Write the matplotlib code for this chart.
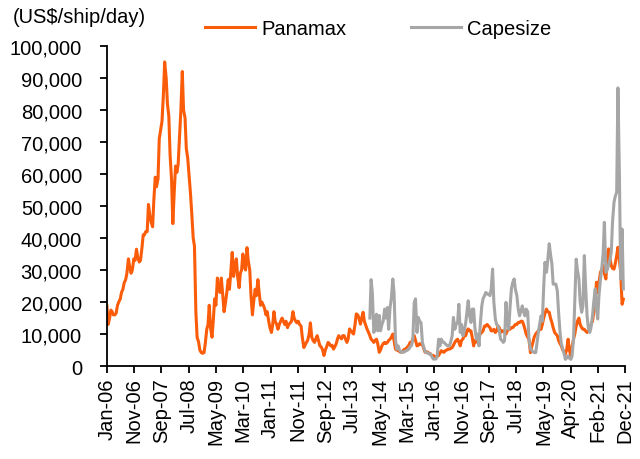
import matplotlib
matplotlib.use('Agg')
import matplotlib.pyplot as plt
import matplotlib.dates as mdates
from matplotlib.ticker import FuncFormatter
import numpy as np
import pandas as pd

# Panamax and Capesize rates, US$'000/ship/day, two readings per month
p2006 = [18.8, 13, 15, 17.5, 17, 16, 16, 16.5, 19, 20, 21, 23, 24, 26, 27, 29, 33.5, 31, 29, 30, 33.5, 33, 36.5, 34]
p2007 = [32.5, 33, 37, 41, 41, 42, 42, 50.5, 47, 45, 43.5, 52, 59, 56, 58.5, 71, 74, 76.5, 85, 95, 90, 82, 78, 66]
p2008 = [58, 44.5, 55, 62.5, 60.5, 63, 72, 80, 92, 80, 77.5, 68, 65, 60, 54, 48, 40, 37.5, 17, 9, 7.5, 5, 4.2, 4]
p2009 = [4.2, 7, 11.5, 13, 19, 12, 9, 14, 21, 19, 27.5, 24, 23, 27.5, 22, 17, 20, 23, 27, 24, 30, 35.5, 28, 31]
p2010 = [33.5, 28, 24.5, 29, 30, 35, 31, 30, 37, 33, 30, 22, 16, 20, 24, 22, 27, 23, 19, 20, 19, 18, 16, 17]
p2011 = [14, 12, 10.5, 13, 17, 14, 13, 11.5, 13, 14, 15, 14, 13, 14, 12, 13, 13.5, 14, 17, 15, 14, 13.5, 14, 13]
p2012 = [12.5, 9, 5.8, 6.5, 7.4, 8, 10, 13.5, 9, 8, 7.4, 8.5, 9.5, 8, 6.3, 6, 5, 3.3, 5, 6, 7.4, 7, 6.3, 6.5]
p2013 = [5.3, 6, 7, 8.5, 9.5, 9, 8.5, 9.5, 9.5, 8.5, 7.4, 8.5, 11.6, 11, 10.5, 10, 13, 16.3, 16, 15, 13.1, 15, 16.8, 14]
p2014 = [12.6, 11.5, 10.5, 9.5, 8.4, 8, 7.4, 8, 8.4, 7, 4.3, 5, 6.3, 7, 7.4, 7, 7.4, 8, 8.4, 9, 10, 8, 5.3, 5]
p2015 = [5, 4.5, 4.3, 4.5, 5, 5.3, 5.3, 6, 6.5, 7.4, 7.4, 8.5, 9.5, 8, 6.3, 6.5, 7, 6.8, 6.8, 5.5, 4.3, 4.5, 4.3, 4]
p2016 = [3.8, 3.3, 3.3, 3, 2.8, 3, 3.3, 4, 4.8, 4.5, 4.3, 4.8, 5, 5.3, 5.3, 5.5, 5.8, 6.5, 7.4, 8, 8.4, 7.5, 6.3, 8]
p2017 = [8.5, 9.5, 9.5, 11, 11.6, 11, 11, 9, 6.3, 8, 7.5, 9, 9.5, 10, 10.5, 11, 12.5, 12.5, 13, 12.5, 12, 11, 11, 11.5]
p2018 = [10.5, 11, 12.5, 12, 10.5, 11, 11, 10.5, 10, 11, 11.5, 11.5, 12, 12, 12.5, 13, 13, 13.6, 13.6, 14, 14, 13, 11.5, 10]
p2019 = [9, 8.4, 4.2, 6, 7.4, 9, 10, 10.5, 11, 11.5, 11.5, 13, 15, 16.5, 17.8, 17, 16.8, 15, 13.6, 12, 10.5, 10, 9.5, 8]
p2020 = [7, 6.3, 5, 4.5, 3.7, 5, 8.4, 5, 3.2, 6, 8.4, 10, 12.5, 14, 15, 13, 12, 11.5, 11.5, 11, 10.5, 11, 11.5, 13]
p2021 = [14, 16.8, 20, 26.2, 23, 26, 29.3, 30, 31.4, 29, 27.2, 33, 36.6, 34, 31.4, 30.5, 30.3, 32, 34.5, 37.1, 33, 29.3, 19.3, 20.9]

c2014 = [15, 27, 23, 10.5, 12, 16.2, 11, 15.8, 11, 13, 14, 17.8, 15, 18.3, 11.5, 18.3, 21, 27.2, 23, 8.4, 5.3]
c2015 = [6.3, 5, 4.3, 4.5, 4.3, 4.5, 4.8, 5, 5.3, 6, 6.5, 8.4, 19.9, 21, 10.5, 15.2, 14, 13.6, 7.4, 6, 4.5, 4.3, 4, 3.8]
c2016 = [3.8, 3, 2.2, 2.2, 2.2, 3, 8.4, 6.3, 8.4, 7.5, 7.4, 7, 6.5, 6.3, 6.3, 7.5, 9.5, 15.2, 11.5, 13, 13.6, 19.3, 10.5, 13]
c2017 = [9.5, 11, 13.6, 17, 20.4, 16, 13.6, 17.8, 17.8, 12, 8.4, 10, 6.3, 13, 18.8, 21, 22, 23, 22.5, 22.5, 22, 24, 30.3, 20]
c2018 = [14.7, 13, 12.5, 11, 8.4, 8, 7.4, 8, 19.9, 14, 11.5, 18, 24.1, 26, 27.2, 24, 22, 18, 15.7, 17, 18.8, 17, 15.7, 17.8]
c2019 = [17, 8.4, 5.3, 5, 4.5, 4.2, 4.2, 7, 10.5, 13, 15.7, 14, 25, 32.4, 29.3, 33, 38.2, 35, 31.9, 25.6, 25.6, 25.6, 23.5, 17]
c2020 = [10.5, 7, 5.3, 4, 2.1, 2.5, 3.2, 2.5, 2.1, 3, 8.4, 20, 33.4, 30, 27.2, 20, 16.8, 18.8, 34.5, 25, 15.7, 12, 10.5, 12]
c2021 = [15.7, 20, 24.1, 18, 14.7, 22, 27.2, 30.3, 35, 44.9, 29.3, 30, 31.4, 33, 35.5, 45, 51.2, 53, 54.3, 86.9, 59.5, 27.2, 42.8, 24.1]

tick_labels = ['Jan-06', 'Nov-06', 'Sep-07', 'Jul-08', 'May-09', 'Mar-10', 'Jan-11', 'Nov-11',
               'Sep-12', 'Jul-13', 'May-14', 'Mar-15', 'Jan-16', 'Nov-16', 'Sep-17', 'Jul-18',
               'May-19', 'Apr-20', 'Feb-21', 'Dec-21']

panamax = np.array(p2006 + p2007 + p2008 + p2009 + p2010 + p2011 + p2012 + p2013 +
                   p2014 + p2015 + p2016 + p2017 + p2018 + p2019 + p2020 + p2021) * 1000
capesize = np.array(c2014 + c2015 + c2016 + c2017 + c2018 + c2019 + c2020 + c2021) * 1000
pan_dates = pd.date_range('2006-01-01', periods=len(panamax), freq='SMS')
cape_dates = pd.date_range('2014-02-15', periods=len(capesize), freq='SMS')

plt.rcParams['font.family'] = ['Liberation Sans', 'DejaVu Sans']
plt.rcParams['font.size'] = 14.5

fig = plt.figure(figsize=(6.4, 4.6), dpi=100)
ax = fig.add_axes([0.167, 0.202, 0.81, 0.696])

ax.plot(pan_dates, panamax, color='#FA5C0A', lw=2.2, label='Panamax')
ax.plot(cape_dates, capesize, color='#A6A6A6', lw=2.2, label='Capesize')

# category-style axis: labels sit at equal steps
t0 = mdates.date2num(pd.Timestamp('2006-01-01'))
t1 = mdates.date2num(pd.Timestamp('2022-01-06'))
ticks = np.linspace(t0, t1, len(tick_labels))
ax.set_xticks(ticks)
ax.set_xticklabels(tick_labels, rotation=90)
ax.set_xlim(t0, t1)

ax.set_ylim(0, 100000)
ax.set_yticks(np.arange(0, 100001, 10000))
ax.yaxis.set_major_formatter(FuncFormatter(lambda v, _: f'{v:,.0f}'))

for s in ['top', 'right']:
    ax.spines[s].set_visible(False)
for s in ['left', 'bottom']:
    ax.spines[s].set_linewidth(1.3)
ax.tick_params(axis='y', direction='out', length=5, width=1.3, pad=13)
ax.tick_params(axis='x', direction='out', length=5, width=1.3, pad=3)

fig.text(0.02, 0.962, '(US$/ship/day)', ha='left', va='center')
fig.legend(loc='center', bbox_to_anchor=(0.591, 0.935), ncol=2, frameon=False,
           handlelength=2.5, handletextpad=0.3, columnspacing=3.2, borderaxespad=0)

fig.savefig('out.png', dpi=100)
